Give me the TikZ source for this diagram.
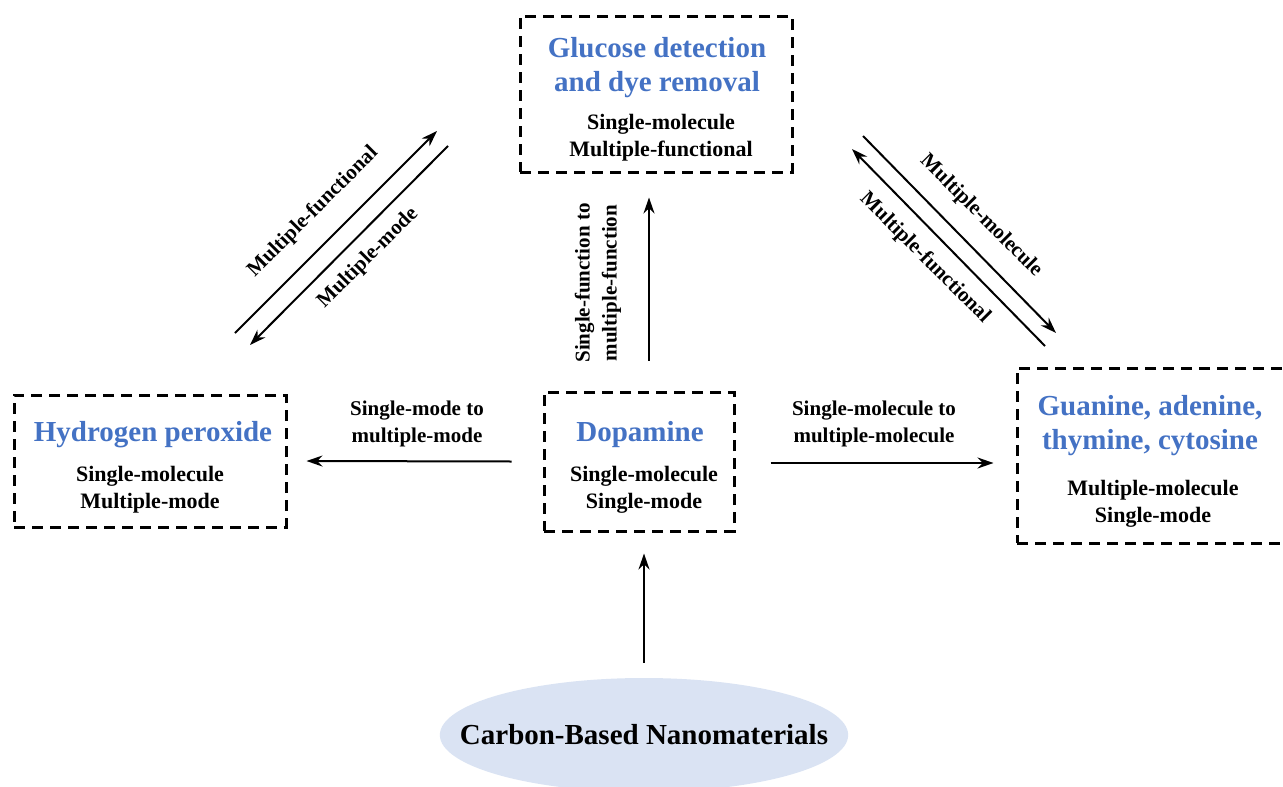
\documentclass[tikz,border=0pt]{standalone}
\usepackage{fontspec}
\setmainfont{Liberation Serif}
\usetikzlibrary{arrows.meta,shapes.geometric}
\definecolor{ttl}{HTML}{4472C4}
\definecolor{ellfill}{HTML}{DAE3F3}
\begin{document}
\begin{tikzpicture}[x=1pt,y=-1pt,
  dbox/.style={draw=black,line width=3pt,dash pattern=on 11pt off 7pt,minimum width=#1},
  ttlfont/.style={font=\fontsize{29}{34}\selectfont\bfseries,text=ttl,align=center,inner sep=0pt},
  bodyfont/.style={font=\fontsize{22}{27}\selectfont\bfseries,text=black,align=center,inner sep=0pt},
  lblfont/.style={font=\fontsize{21}{27}\selectfont\bfseries,text=black,align=center,inner sep=0pt},
  arr/.style={draw=black,line width=2pt,-{Stealth[length=16pt,width=11pt]}}]
\useasboundingbox (0,0) rectangle (1283,787);
% boxes
\node[dbox=272pt,minimum height=156pt] (glu) at (656,94) {};
\node[dbox=272pt,minimum height=132pt] (hyd) at (150,461) {};
\node[dbox=190pt,minimum height=139pt] (dop) at (639,461.5) {};
\node[dbox=270pt,minimum height=175pt] (gua) at (1152,455.5) {};
% texts
\node[ttlfont] (gluT) at (657,67.5) {Glucose detection\\and dye removal};
\node[bodyfont] (gluB) at (661,137.5) {Single-molecule\\Multiple-functional};
\node[ttlfont] (hydT) at (153,434.5) {Hydrogen peroxide};
\node[bodyfont] (hydB) at (150,490) {Single-molecule\\Multiple-mode};
\node[ttlfont] (dopT) at (640,434.5) {Dopamine};
\node[bodyfont] (dopB) at (644,490) {Single-molecule\\Single-mode};
\node[ttlfont] (guaT) at (1150,426) {Guanine, adenine,\\thymine, cytosine};
\node[bodyfont] (guaB) at (1153,503.5) {Multiple-molecule\\Single-mode};
% ellipse
\node[ellipse,fill=ellfill,minimum height=114pt,inner xsep=-39.7pt,inner ysep=0pt,
  font=\fontsize{29}{34}\selectfont\bfseries] (cbn) at (644,735) {Carbon-Based Nanomaterials};
% straight arrows
\draw[arr] ([yshift=15pt]cbn.north) -- ([xshift=5pt,yshift=-21pt]dop.south);
\draw[arr] ([xshift=10pt,yshift=30pt]dop.north) -- ([xshift=-7pt,yshift=-24pt]glu.south);
\draw[arr] ([xshift=-31pt]dop.west) -- ([xshift=19pt]hyd.east);
\draw[arr] ([xshift=35pt,yshift=-1.5pt]dop.east) -- ([xshift=-22pt,yshift=-7.5pt]gua.west);
% diagonal arrow endpoints
\coordinate (l1s) at (235,333);
\coordinate (l1e) at (437,131);
\coordinate (l2s) at (448,146);
\coordinate (l2e) at (250,345);
\coordinate (r1s) at (863,136);
\coordinate (r1e) at (1056,333);
\coordinate (r2s) at (1045,346);
\coordinate (r2e) at (852,149);
\draw[arr] (l1s) -- (l1e);
\draw[arr] (l2s) -- (l2e);
\draw[arr] (r1s) -- (r1e);
\draw[arr] (r2s) -- (r2e);
% arrow labels
\node[lblfont] (lblL) at (417,424) {Single-mode to\\multiple-mode};
\node[lblfont] (lblR) at (874,424) {Single-molecule to\\multiple-molecule};
\node[lblfont,rotate=90] (lblU) at (598,283) {Single-function to\\multiple-function};
\node[lblfont,rotate=45] (lblLa) at (313,212) {Multiple-functional};
\node[lblfont,rotate=45] (lblLb) at (368,258) {Multiple-mode};
\node[lblfont,rotate=-45] (lblRa) at (981,216) {Multiple-molecule};
\node[lblfont,rotate=-45] (lblRb) at (925,258) {Multiple-functional};
\end{tikzpicture}
\end{document}
